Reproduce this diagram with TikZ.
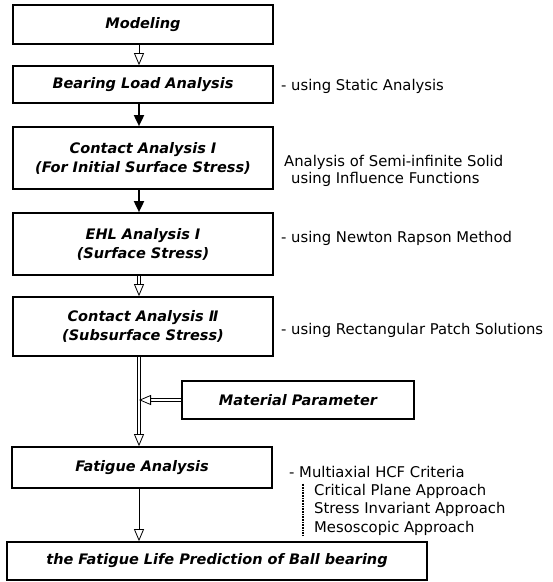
\documentclass[tikz,border=0pt]{standalone}
\usepackage{fontspec}
\setmainfont{DejaVu Sans}
\usetikzlibrary{arrows.meta}
\newcommand\twinarrow[3]{%
  \draw [opentip] (#2) -- (#3);
  \draw [twin] ([#1=-1.4pt]#2) -- ([#1=-1.4pt]#3);
  \draw [twin] ([#1=1.4pt]#2) -- ([#1=1.4pt]#3);}
\begin{document}
\begin{tikzpicture}[x=1pt, y=-1pt,
  box/.style={draw, line width=1.7pt, inner sep=2pt, minimum width=260pt, align=center, font=\fontsize{14.5}{19}\selectfont\bfseries\itshape},
  note/.style={anchor=west, inner sep=0pt, font=\fontsize{14.8}{17}\selectfont},
  fullarrow/.style={line width=1.8pt, -{Triangle[length=11pt,width=10pt]}},
  openarrow/.style={line width=0.8pt, -{Triangle[open, length=12pt, width=10pt]}},
  opentip/.style={draw=white, line width=0.8pt, -{Triangle[open, color=black, length=12pt, width=10pt]}},
  twin/.style={line width=0.8pt, shorten >=11.5pt}]
\useasboundingbox (0,0) rectangle (553,582);

\node [box, minimum height=39pt] (mod) at (143,24.5) {Modeling};
\node [box, minimum height=37pt] (bear) at (143,84.5) {Bearing Load Analysis};
\node [box, minimum height=62pt] (con1) at (143,158) {Contact Analysis Ⅰ\\(For Initial Surface Stress)};
\node [box, minimum height=62pt] (ehl) at (143,244) {EHL Analysis Ⅰ\\(Surface Stress)};
\node [box, minimum height=59pt] (con2) at (143,326.5) {Contact Analysis Ⅱ\\(Subsurface Stress)};
\node [box, minimum height=38pt, minimum width=232pt] (mat) at (298,400) {Material Parameter};
\node [box, minimum height=41pt] (fat) at (142,467.5) {Fatigue Analysis};
\node [box, minimum height=38pt, minimum width=420pt] (life) at (217,561) {the Fatigue Life Prediction of Ball bearing};

\coordinate (ax) at (139,0);
\coordinate (join) at (139,400);
\draw [openarrow] (mod.south -| ax) -- (bear.north -| ax);
\draw [fullarrow] (bear.south -| ax) -- (con1.north -| ax);
\draw [fullarrow] (con1.south -| ax) -- (ehl.north -| ax);
\twinarrow{xshift}{ehl.south -| ax}{con2.north -| ax}
\twinarrow{xshift}{con2.south -| ax}{fat.north -| ax}
\twinarrow{yshift}{mat.west}{join}
\draw [openarrow] (fat.south -| ax) -- (life.north -| ax);

\node [note] (static) at (281,86) {- using Static Analysis};
\node [note] (semi) at (284,162) {Analysis of Semi-infinite Solid};
\node [note] (infl) at (291,179) {using Influence Functions};
\node [note] (newton) at (281,238) {- using Newton Rapson Method};
\node [note] (rect) at (281,330) {- using Rectangular Patch Solutions};
\node [note] (hcf) at (289,472) {- Multiaxial HCF Criteria};
\node [note] (crit) at (314,491) {Critical Plane Approach};
\node [note] (inv) at (314,509.5) {Stress Invariant Approach};
\node [note] (meso) at (314,528) {Mesoscopic Approach};
\draw [line width=1.4pt, dash pattern=on 1pt off 0.6pt] ([xshift=-11pt]crit.north west) -- ([xshift=-11pt]meso.south west);
\end{tikzpicture}
\end{document}
